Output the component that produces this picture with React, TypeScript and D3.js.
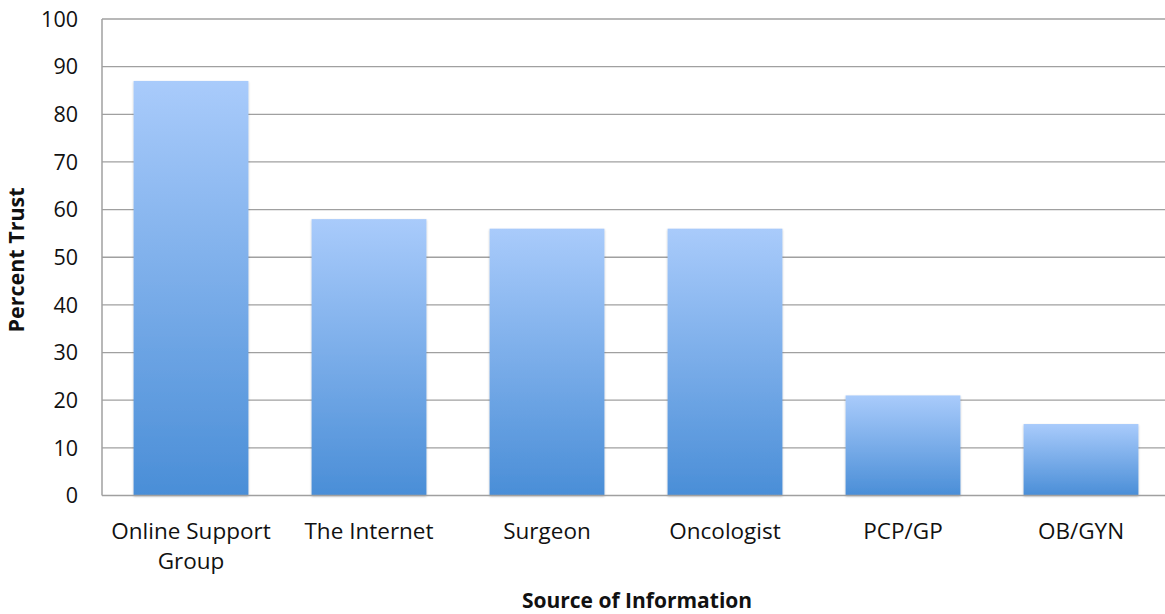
import React from "react";
import * as d3 from "d3";

const categories = ["Online Support Group", "The Internet", "Surgeon", "Oncologist", "PCP/GP", "OB/GYN"];
const categoryLines = [["Online Support", "Group"], ["The Internet"], ["Surgeon"], ["Oncologist"], ["PCP/GP"], ["OB/GYN"]];
const values = [87, 58, 56, 56, 21, 15];
const yTicks = [0, 10, 20, 30, 40, 50, 60, 70, 80, 90, 100];

const W = 1165, H = 614;
const margin = { left: 102, top: 19, right: -5, bottom: 118 };

export default function App() {
  const x = d3.scaleBand<string>().domain(categories).range([margin.left, W - margin.right]).paddingInner(0.355).paddingOuter(0.1775);
  const y = d3.scaleLinear().domain([0, 100]).range([H - margin.bottom - 0.5, margin.top]);
  const font = "'Open Sans', 'Noto Sans', sans-serif";
  return (
    <svg width={W} height={H} style={{ position: "absolute", left: 0, top: 0, background: "#fff" }}>
      <defs>
        <linearGradient id="barGrad" x1="0" y1="0" x2="0" y2="1">
          <stop offset="0" stopColor="#a9cbfb" />
          <stop offset="1" stopColor="#4a8ed7" />
        </linearGradient>
        <filter id="shadow" x="-10%" y="-10%" width="120%" height="120%">
          <feGaussianBlur in="SourceAlpha" stdDeviation="1.2" />
          <feOffset dx="0" dy="0.5" result="b" />
          <feComponentTransfer><feFuncA type="linear" slope="0.25" /></feComponentTransfer>
          <feMerge><feMergeNode /><feMergeNode in="SourceGraphic" /></feMerge>
        </filter>
      </defs>
      {yTicks.map((t) => (
        <g key={t}>
          {t > 0 && <line x1={margin.left} x2={W} y1={y(t)} y2={y(t)} stroke="#a0a0a0" strokeWidth={1.3} />}
          <text x={78} y={y(t)} dy="0.36em" textAnchor="end" fontFamily={font} fontSize={21.5} fill="#111">{t}</text>
        </g>
      ))}
      {categories.map((c, i) => (
        <rect key={c} x={x(c)} y={y(values[i])} width={x.bandwidth()} height={y(0) - y(values[i])} fill="url(#barGrad)" filter="url(#shadow)" />
      ))}
      <line x1={margin.left} x2={margin.left} y1={margin.top} y2={y(0)} stroke="#a0a0a0" strokeWidth={1.5} />
      <line x1={margin.left} x2={W} y1={y(0)} y2={y(0)} stroke="#a0a0a0" strokeWidth={1.5} />
      {categories.map((c, i) => (
        <text key={c} x={(x(c) as number) + x.bandwidth() / 2} y={539} textAnchor="middle" fontFamily={font} fontSize={22.5} fill="#111">
          {categoryLines[i].map((l, j) => (
            <tspan key={j} x={(x(c) as number) + x.bandwidth() / 2} dy={j === 0 ? 0 : 30}>{l}</tspan>
          ))}
        </text>
      ))}
      <text x={637} y={608} textAnchor="middle" fontFamily={font} fontSize={21} fontWeight="bold" fill="#111">Source of Information</text>
      <text transform={`translate(24,${260}) rotate(-90)`} textAnchor="middle" fontFamily={font} fontSize={21.5} fontWeight="bold" fill="#111">Percent Trust</text>
    </svg>
  );
}
